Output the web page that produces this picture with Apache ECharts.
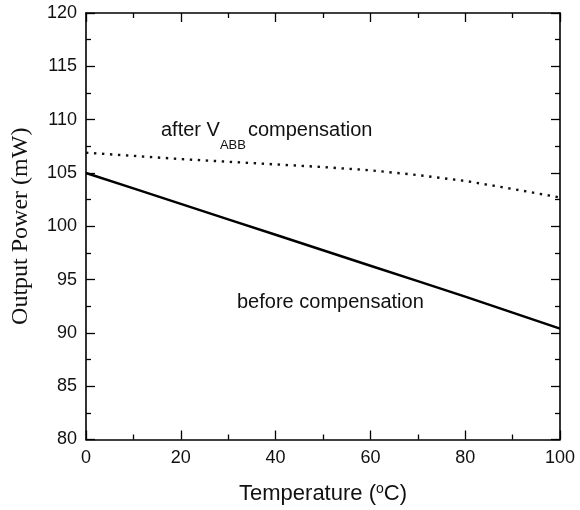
<!DOCTYPE html>
<html>
<head>
<meta charset="utf-8">
<script src="https://cdn.jsdelivr.net/npm/echarts@6/dist/echarts.min.js"></script>
<style>html,body{margin:0;padding:0;background:#fff}#c{width:580px;height:510px}</style>
</head>
<body>
<div id="c"></div>
<script>
var temps = [0, 10, 20, 30, 40, 50, 60, 70, 80, 90, 100];
var beforeComp = [105.0, 103.55, 102.1, 100.65, 99.2, 97.75, 96.3, 94.85, 93.4, 91.9, 90.4];
var afterComp = [106.9, 106.6, 106.3, 106.05, 105.8, 105.55, 105.25, 104.8, 104.25, 103.5, 102.7];
var xTicks = [0, 20, 40, 60, 80, 100];
var yTicks = [80, 85, 90, 95, 100, 105, 110, 115, 120];

var chart = echarts.init(document.getElementById('c'), null, {renderer: 'canvas'});
function pairs(xs, ys) { return xs.map(function (x, i) { return [x, ys[i]]; }); }
var SANS = 'Liberation Sans, Arial, sans-serif';
var tickFont = {fontFamily: SANS, fontSize: 18, color: '#111'};
function axisCommon() {
  return {
    axisLine: {show: true, onZero: false, lineStyle: {color: '#000', width: 1.6}},
    axisTick: {show: true, inside: true, length: 9, lineStyle: {color: '#000', width: 1.3}},
    minorTick: {show: true, splitNumber: 2, length: 5, lineStyle: {color: '#000', width: 1.3}},
    splitLine: {show: false}
  };
}
var option = {
  animation: false,
  backgroundColor: '#fff',
  grid: {left: 86, right: 20, top: 13, bottom: 69, containLabel: false},
  xAxis: [
    Object.assign({
      type: 'value', min: 0, max: 100, interval: 20, position: 'bottom',
      axisLabel: Object.assign({margin: 10}, tickFont),
      name: 'Temperature ({sup|o}C)', nameLocation: 'middle', nameGap: 43,
      nameTextStyle: {fontFamily: SANS, fontSize: 22, color: '#111',
        rich: {sup: {fontSize: 14, fontFamily: SANS, color: '#111', verticalAlign: 'top', padding: [0, 0, 9, 0]}}}
    }, axisCommon()),
    Object.assign({
      type: 'value', min: 0, max: 100, interval: 20, position: 'top',
      axisLabel: {show: false}
    }, axisCommon())
  ],
  yAxis: [
    Object.assign({
      type: 'value', min: 80, max: 120, interval: 5, position: 'left',
      axisLabel: Object.assign({margin: 9}, tickFont),
      name: 'Output Power (mW)', nameLocation: 'middle', nameGap: 53,
      nameTextStyle: {fontFamily: 'Liberation Serif, Times New Roman, serif', fontSize: 24, color: '#111'}
    }, axisCommon()),
    Object.assign({
      type: 'value', min: 80, max: 120, interval: 5, position: 'right',
      axisLabel: {show: false}
    }, axisCommon())
  ],
  series: [
    {
      type: 'line', data: pairs(temps, beforeComp), showSymbol: false, symbol: 'none',
      lineStyle: {color: '#000', width: 2.5}
    },
    {
      type: 'line', data: pairs(temps, afterComp), showSymbol: false, symbol: 'none',
      lineStyle: {color: '#111', width: 2.4, type: [2.4, 5.6], cap: 'butt'}
    }
  ],
  graphic: [
    {
      type: 'text', left: 161, top: 120,
      style: {
        text: '{m|after V}{s|ABB}{m|compensation}',
        rich: {
          m: {fontSize: 20, fontFamily: SANS, fill: '#111', lineHeight: 20, verticalAlign: 'top'},
          s: {fontSize: 13, fontFamily: SANS, fill: '#111', lineHeight: 20, padding: [19, 2, 0, 0], verticalAlign: 'top'}
        }
      }
    },
    {
      type: 'text', left: 237, top: 292,
      style: {text: 'before compensation', fontSize: 20, fontFamily: SANS, fill: '#111'}
    }
  ]
};
chart.setOption(option);
</script>
</body>
</html>
